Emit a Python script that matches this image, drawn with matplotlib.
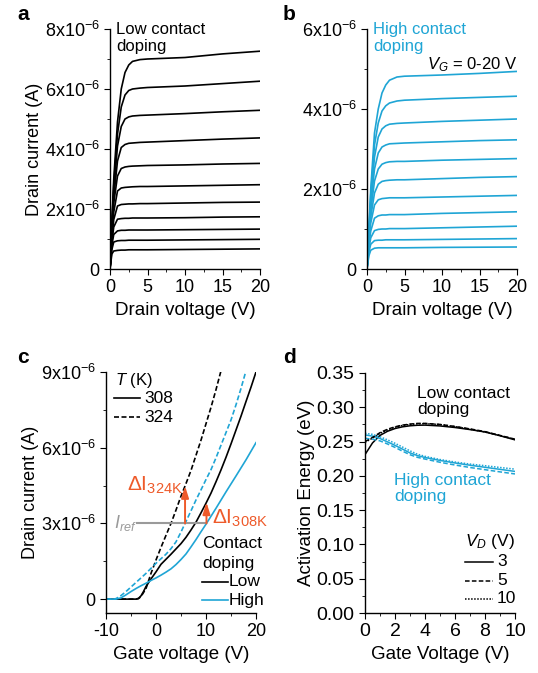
import numpy as np
import matplotlib
matplotlib.use('Agg')
import matplotlib.pyplot as plt
from matplotlib.ticker import MultipleLocator, FuncFormatter

plt.rcParams['font.family'] = ['Liberation Sans', 'DejaVu Sans']
plt.rcParams['mathtext.fontset'] = 'custom'
plt.rcParams['mathtext.rm'] = 'Liberation Sans'
plt.rcParams['mathtext.it'] = 'Liberation Sans:italic'
plt.rcParams['mathtext.bf'] = 'Liberation Sans:bold'
plt.rcParams['axes.unicode_minus'] = False
plt.rcParams['font.size'] = 12
plt.rcParams['axes.linewidth'] = 1.0
plt.rcParams['xtick.direction'] = 'out'
plt.rcParams['ytick.direction'] = 'out'
plt.rcParams['xtick.major.size'] = 4
plt.rcParams['ytick.major.size'] = 4
plt.rcParams['xtick.minor.size'] = 2.5
plt.rcParams['ytick.minor.size'] = 2.5
plt.rcParams['xtick.labelsize'] = 13
plt.rcParams['ytick.labelsize'] = 13

BLUE = '#1fa5d5'
RED = '#ee5a2a'
GREY = '#9a9a9a'

# ---------------- data (currents in units of 1e-6 A) ----------------
# a, b: output curves, one row per gate voltage step (0-20 V)
vd = [0, 0.25, 0.5, 1, 1.5, 2, 2.5, 3, 4, 5, 10, 15, 20]

id_low = [
    [0, 1.6, 3.0, 4.9, 6.0, 6.55, 6.8, 6.92, 6.98, 7.0, 7.05, 7.17, 7.26],
    [0, 1.5, 2.8, 4.5, 5.4, 5.8, 5.95, 6.0, 6.03, 6.05, 6.1, 6.18, 6.26],
    [0, 1.4, 2.6, 4.1, 4.75, 5.0, 5.07, 5.1, 5.12, 5.13, 5.18, 5.24, 5.29],
    [0, 1.3, 2.4, 3.6, 4.05, 4.15, 4.19, 4.2, 4.22, 4.23, 4.28, 4.33, 4.37],
    [0, 1.2, 2.2, 3.1, 3.35, 3.4, 3.42, 3.43, 3.44, 3.45, 3.47, 3.5, 3.52],
    [0, 1.1, 1.9, 2.6, 2.7, 2.72, 2.73, 2.74, 2.75, 2.75, 2.77, 2.79, 2.81],
    [0, 1.0, 1.65, 2.1, 2.15, 2.16, 2.17, 2.17, 2.18, 2.18, 2.2, 2.22, 2.23],
    [0, 0.9, 1.4, 1.66, 1.68, 1.69, 1.69, 1.7, 1.7, 1.7, 1.71, 1.73, 1.74],
    [0, 0.8, 1.15, 1.27, 1.29, 1.29, 1.3, 1.3, 1.3, 1.3, 1.31, 1.32, 1.33],
    [0, 0.65, 0.9, 0.94, 0.95, 0.95, 0.96, 0.96, 0.96, 0.96, 0.97, 0.98, 0.99],
    [0, 0.5, 0.6, 0.62, 0.63, 0.63, 0.64, 0.64, 0.64, 0.64, 0.65, 0.66, 0.67],
]

id_high = [
    [0, 1.0, 2.0, 3.4, 4.0, 4.4, 4.6, 4.72, 4.8, 4.82, 4.85, 4.89, 4.94],
    [0, 0.95, 1.85, 3.1, 3.65, 3.95, 4.08, 4.15, 4.2, 4.22, 4.26, 4.29, 4.32],
    [0, 0.9, 1.7, 2.8, 3.3, 3.5, 3.58, 3.62, 3.64, 3.65, 3.69, 3.72, 3.75],
    [0, 0.85, 1.6, 2.5, 2.9, 3.05, 3.1, 3.13, 3.14, 3.15, 3.18, 3.21, 3.23],
    [0, 0.8, 1.45, 2.2, 2.5, 2.62, 2.66, 2.68, 2.69, 2.69, 2.72, 2.74, 2.76],
    [0, 0.75, 1.3, 1.9, 2.12, 2.19, 2.21, 2.22, 2.23, 2.23, 2.26, 2.29, 2.31],
    [0, 0.7, 1.15, 1.6, 1.73, 1.76, 1.77, 1.78, 1.78, 1.78, 1.8, 1.82, 1.84],
    [0, 0.6, 0.95, 1.27, 1.33, 1.35, 1.35, 1.36, 1.36, 1.36, 1.39, 1.41, 1.43],
    [0, 0.5, 0.78, 0.96, 0.99, 1.0, 1.0, 1.01, 1.01, 1.01, 1.03, 1.05, 1.07],
    [0, 0.42, 0.62, 0.71, 0.72, 0.72, 0.73, 0.73, 0.73, 0.73, 0.74, 0.75, 0.76],
    [0, 0.33, 0.47, 0.52, 0.53, 0.53, 0.53, 0.53, 0.53, 0.53, 0.54, 0.545, 0.55],
]

# c: transfer curves
vg_low_308 = [-10, -4, -3.5, -3, -2.5, -2, -1, 0, 1, 2, 3, 4, 5, 6, 7, 8, 9, 10,
              11, 12, 13, 14, 15, 16, 17, 18, 19, 20]
id_low_308 = [0, 0, 0.03, 0.13, 0.3, 0.5, 0.8, 1.08, 1.38, 1.58, 1.78, 1.99, 2.2,
              2.45, 2.74, 3.05, 3.42, 3.8, 4.2, 4.65, 5.12, 5.62, 6.15, 6.7, 7.25,
              7.83, 8.4, 9.0]

vg_low_324 = [-10, -4, -3.5, -3, -2, -1, 0, 1, 2, 3, 4, 5, 6, 7, 8, 9, 10, 11, 12, 13]
id_low_324 = [0, 0, 0.02, 0.1, 0.42, 1.02, 1.55, 2.05, 2.53, 3.0, 3.53, 4.08, 4.58,
              5.1, 5.7, 6.3, 6.95, 7.6, 8.3, 9.05]

vg_high_308 = [-10, -8, -7, -6, -5, -4, -3, -2, -1, 0, 1, 2, 3, 4, 5, 6, 7, 8, 9,
               10, 12, 14, 16, 18, 20]
id_high_308 = [0, 0, 0.05, 0.17, 0.3, 0.42, 0.53, 0.63, 0.74, 0.84, 0.95, 1.07, 1.2,
               1.37, 1.57, 1.79, 2.07, 2.36, 2.67, 2.97, 3.6, 4.25, 4.88, 5.52, 6.2]

vg_high_324 = [-10, -8.5, -8, -7, -6, -5, -4, -3, -2, -1, 0, 1, 2, 3, 4, 5, 6, 7, 8,
               9, 10, 11, 12, 13, 14, 15, 16, 17, 18]
id_high_324 = [0, 0, 0.02, 0.14, 0.3, 0.48, 0.66, 0.84, 1.02, 1.22, 1.42, 1.6, 1.78,
               2.0, 2.27, 2.66, 3.08, 3.5, 3.93, 4.33, 4.74, 5.13, 5.6, 6.1, 6.6, 7.1,
               7.7, 8.35, 9.05]

i_ref = 3.0

# d: activation energy
vg_d = [0, 0.5, 1, 1.5, 2, 2.5, 3, 3.5, 4, 5, 6, 7, 8, 9, 10]
ea_low = {
    3: [0.231, 0.248, 0.259, 0.265, 0.269, 0.2715, 0.273, 0.2738, 0.274, 0.2728,
        0.2705, 0.2675, 0.264, 0.2585, 0.2525],
    5: [0.250, 0.256, 0.263, 0.268, 0.2715, 0.274, 0.2755, 0.2765, 0.2765, 0.275,
        0.272, 0.2685, 0.2645, 0.259, 0.2535],
    10: [0.249, 0.255, 0.262, 0.267, 0.271, 0.2735, 0.275, 0.276, 0.2762, 0.2748,
         0.2718, 0.268, 0.264, 0.2588, 0.2532],
}
ea_high = {
    3: [0.2597, 0.258, 0.2545, 0.2495, 0.2445, 0.239, 0.2335, 0.2295, 0.2268, 0.2225,
        0.2188, 0.2155, 0.2125, 0.2095, 0.2065],
    5: [0.2548, 0.2535, 0.251, 0.2465, 0.2415, 0.236, 0.2308, 0.227, 0.2245, 0.2198,
        0.2158, 0.2122, 0.209, 0.2058, 0.2028],
    10: [0.262, 0.2605, 0.257, 0.2525, 0.2475, 0.242, 0.2365, 0.2315, 0.2285, 0.2238,
         0.2202, 0.2172, 0.2148, 0.2122, 0.2098],
}
vd_styles = {3: '-', 5: (0, (3, 1.5)), 10: (0, (1, 1))}


def sci_fmt(v, pos):
    n = v * 1e6
    if abs(n) < 1e-9:
        return '0'
    return f'{n:.0f}x10$^{{-6}}$'


def style_ax(ax):
    for s in ['top', 'right']:
        ax.spines[s].set_visible(False)


fig = plt.figure(figsize=(5.38, 6.73), dpi=100)
W, H = 538, 673


def add_ax(left, top, right, bottom):
    return fig.add_axes([left / W, 1 - bottom / H, (right - left) / W, (bottom - top) / H])


# ---------------- a ----------------
ax = add_ax(110, 29, 260, 269)
style_ax(ax)
for row in id_low:
    ax.plot(vd, np.array(row) * 1e-6, color='black', lw=1.2)
ax.set_xlim(0, 20)
ax.set_ylim(0, 8e-6)
ax.xaxis.set_major_locator(MultipleLocator(5))
ax.xaxis.set_minor_locator(MultipleLocator(2.5))
ax.yaxis.set_major_locator(MultipleLocator(2e-6))
ax.yaxis.set_minor_locator(MultipleLocator(1e-6))
ax.yaxis.set_major_formatter(FuncFormatter(sci_fmt))
ax.set_xlabel('Drain voltage (V)', fontsize=13.5)
ax.set_ylabel('Drain current (A)', fontsize=13, labelpad=1)
ax.text(0.04, 1.03, 'Low contact\ndoping', transform=ax.transAxes, va='top',
        ha='left', fontsize=12, linespacing=1.15)
fig.text(17 / W, 1 - 20 / H, 'a', fontsize=15, fontweight='bold')

# ---------------- b ----------------
ax = add_ax(367, 29, 517, 269)
style_ax(ax)
for row in id_high:
    ax.plot(vd, np.array(row) * 1e-6, color=BLUE, lw=1.2)
ax.set_xlim(0, 20)
ax.set_ylim(0, 6e-6)
ax.xaxis.set_major_locator(MultipleLocator(5))
ax.xaxis.set_minor_locator(MultipleLocator(2.5))
ax.yaxis.set_major_locator(MultipleLocator(2e-6))
ax.yaxis.set_minor_locator(MultipleLocator(1e-6))
ax.yaxis.set_major_formatter(FuncFormatter(sci_fmt))
ax.set_xlabel('Drain voltage (V)', fontsize=13.5)
ax.text(0.04, 1.03, 'High contact\ndoping', transform=ax.transAxes, va='top',
        ha='left', fontsize=12, linespacing=1.15, color=BLUE)
ax.text(20, 5.12e-6, '$V_G$ = 0-20 V', ha='right', va='center', fontsize=12)
fig.text(283 / W, 1 - 20 / H, 'b', fontsize=15, fontweight='bold')

# ---------------- c ----------------
ax = add_ax(106, 372, 256, 613)
style_ax(ax)
sc = 1e-6
ax.plot(vg_low_308, np.array(id_low_308) * sc, color='black', lw=1.2)
ax.plot(vg_low_324, np.array(id_low_324) * sc, color='black', lw=1.2, ls=(0, (3, 1.5)))
ax.plot(vg_high_308, np.array(id_high_308) * sc, color=BLUE, lw=1.2)
ax.plot(vg_high_324, np.array(id_high_324) * sc, color=BLUE, lw=1.2, ls=(0, (3, 1.5)))

# reference current and the two current increments
v324 = np.interp(i_ref, id_high_324, vg_high_324)
v308 = np.interp(i_ref, id_high_308, vg_high_308)
top324 = np.interp(v324, vg_low_324, id_low_324)
top308 = np.interp(v308, vg_low_308, id_low_308)
ax.plot([-3.8, v308], [i_ref * sc, i_ref * sc], color=GREY, lw=1.5)
ax.text(-3.9, i_ref * sc, '$I_{ref}$', color=GREY, ha='right', va='center', fontsize=13)
for v, t in [(v324, top324), (v308, top308)]:
    ax.annotate('', xy=(v, t * sc), xytext=(v, i_ref * sc),
                arrowprops=dict(arrowstyle='-|>,head_length=0.7,head_width=0.22',
                                color=RED, lw=1.4, mutation_scale=10,
                                shrinkA=0, shrinkB=0))
ax.text(5.3, 4.5e-6, 'ΔI$_{\\mathregular{324K}}$', color=RED, ha='right', va='center', fontsize=15)
ax.text(11.1, 3.2e-6, 'ΔI$_{\\mathregular{308K}}$', color=RED, ha='left', va='center', fontsize=15)

ax.set_xlim(-10, 20)
ax.set_ylim(-0.55e-6, 9e-6)
ax.spines['bottom'].set_bounds(-10, 20)
ax.xaxis.set_major_locator(MultipleLocator(10))
ax.xaxis.set_minor_locator(MultipleLocator(5))
ax.yaxis.set_major_locator(MultipleLocator(3e-6))
ax.yaxis.set_minor_locator(MultipleLocator(1.5e-6))
ax.yaxis.set_major_formatter(FuncFormatter(sci_fmt))
ax.set_xlabel('Gate voltage (V)', fontsize=13.5)
ax.set_ylabel('Drain current (A)', fontsize=13, labelpad=1)

# temperature key
ax.text(-8.2, 8.68e-6, '$T$ (K)', ha='left', va='center', fontsize=12)
ax.plot([-8.5, -3.2], [7.96e-6, 7.96e-6], color='black', lw=1.2)
ax.text(-2.4, 7.96e-6, '308', ha='left', va='center', fontsize=12.5)
ax.plot([-8.5, -3.2], [7.2e-6, 7.2e-6], color='black', lw=1.2, ls=(0, (3, 1.5)))
ax.text(-2.4, 7.2e-6, '324', ha='left', va='center', fontsize=12.5)
# contact doping key
ax.text(9.2, 2.21e-6, 'Contact', ha='left', va='center', fontsize=12.5)
ax.text(9.2, 1.42e-6, 'doping', ha='left', va='center', fontsize=12.5)
ax.plot([9.2, 14.4], [0.68e-6, 0.68e-6], color='black', lw=1.2, clip_on=False)
ax.text(14.6, 0.68e-6, 'Low', ha='left', va='center', fontsize=12.5)
ax.plot([9.2, 14.4], [-0.05e-6, -0.05e-6], color=BLUE, lw=1.2, clip_on=False)
ax.text(14.6, -0.05e-6, 'High', ha='left', va='center', fontsize=12.5)
fig.text(17 / W, 1 - 363 / H, 'c', fontsize=15, fontweight='bold')

# ---------------- d ----------------
ax = add_ax(365, 373, 515, 613)
style_ax(ax)
for k in [3, 5, 10]:
    ax.plot(vg_d, ea_low[k], color='black', lw=1.1, ls=vd_styles[k])
    ax.plot(vg_d, ea_high[k], color=BLUE, lw=1.1, ls=vd_styles[k])
ax.set_xlim(0, 10)
ax.set_ylim(0, 0.35)
ax.xaxis.set_major_locator(MultipleLocator(2))
ax.xaxis.set_minor_locator(MultipleLocator(1))
ax.yaxis.set_major_locator(MultipleLocator(0.05))
ax.yaxis.set_minor_locator(MultipleLocator(0.025))
ax.yaxis.set_major_formatter(FuncFormatter(lambda v, p: f'{v:.2f}'))
ax.tick_params(labelsize=14)
ax.set_xlabel('Gate Voltage (V)', fontsize=13.5)
ax.set_ylabel('Activation Energy (eV)', fontsize=13.5, labelpad=1)
ax.text(3.45, 0.308, 'Low contact\ndoping', ha='left', va='center', fontsize=12.5, linespacing=1.1)
ax.text(1.95, 0.181, 'High contact\ndoping', ha='left', va='center', fontsize=12.5,
        linespacing=1.1, color=BLUE)
ax.text(6.67, 0.1036, '$V_D$ (V)', ha='left', va='center', fontsize=12.5)
for k, yk in zip([3, 5, 10], [0.0745, 0.0469, 0.0211]):
    ax.plot([6.67, 8.5], [yk, yk], color='black', lw=1.1, ls=vd_styles[k])
    ax.text(8.8, yk, str(k), ha='left', va='center', fontsize=12.5)
fig.text(283 / W, 1 - 363 / H, 'd', fontsize=15, fontweight='bold')

fig.savefig('out.png', dpi=100)
